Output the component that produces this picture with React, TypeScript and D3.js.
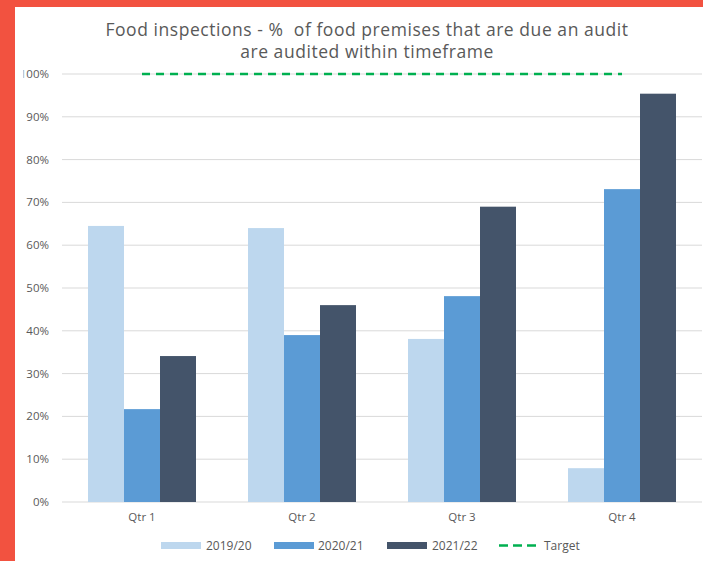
import React from "react";
import * as d3 from "d3";

const categories = ["Qtr 1", "Qtr 2", "Qtr 3", "Qtr 4"];
const seriesNames = ["2019/20", "2020/21", "2021/22"];
const values2019 = [0.645, 0.64, 0.381, 0.079];
const values2020 = [0.217, 0.39, 0.481, 0.731];
const values2021 = [0.341, 0.46, 0.69, 0.954];
const targetValues = [1, 1, 1, 1];
const yTicks = [0, 0.1, 0.2, 0.3, 0.4, 0.5, 0.6, 0.7, 0.8, 0.9, 1];
const titleLines = [
  "Food inspections - %  of food premises that are due an audit",
  "are audited within timeframe",
];

const colors = ["#BDD7EE", "#5B9BD5", "#44546A"];
const targetColor = "#00B050";
const textColor = "#595959";
const gridColor = "#D9D9D9";
const font = "'Open Sans', sans-serif";

export default function App() {
  const W = 703;
  const H = 561;
  const left = 62;
  const right = 702;
  const top = 74;
  const bottom = 502;

  const x = d3.scaleBand<string>().domain(categories).range([left, right]).paddingInner(0).paddingOuter(0);
  const inner = d3.scaleBand<string>().domain(seriesNames).range([26, 134]).padding(0);
  const y = d3.scaleLinear().domain([0, 1]).range([bottom, top]);
  const series = [values2019, values2020, values2021];
  const fmt = d3.format(".0%");

  const targetLine = d3
    .line<number>()
    .x((_, i) => (x(categories[i]) as number) + x.bandwidth() / 2)
    .y((d) => y(d));

  const legendItems = [
    { label: seriesNames[0], kind: "rect", color: colors[0], sx: 161, tx: 206 },
    { label: seriesNames[1], kind: "rect", color: colors[1], sx: 274, tx: 318 },
    { label: seriesNames[2], kind: "rect", color: colors[2], sx: 387, tx: 432 },
    { label: "Target", kind: "line", color: targetColor, sx: 499, tx: 544 },
  ];

  return (
    <svg
      width={W}
      height={H}
      style={{ position: "absolute", left: 0, top: 0, background: "#fff" }}
      fontFamily={font}
    >
      <defs>
        <clipPath id="labelClip">
          <rect x={23.5} y={0} width={W} height={H} />
        </clipPath>
      </defs>
      <rect x={0} y={0} width={W} height={H} fill="#fff" />

      {titleLines.map((t, i) => (
        <text
          key={i}
          x={367}
          y={36 + i * 22}
          textAnchor="middle"
          fontSize={17.5}
          letterSpacing={0.55}
          fill={textColor}
          style={{ whiteSpace: "pre" }}
        >
          {t}
        </text>
      ))}

      {yTicks.map((t) => (
        <g key={t}>
          <line x1={left} x2={right} y1={y(t)} y2={y(t)} stroke={gridColor} strokeWidth={1} />
          <text
            x={49}
            y={y(t) + 4}
            textAnchor="end"
            fontSize={11.5}
            fill={textColor}
            clipPath="url(#labelClip)"
          >
            {fmt(t)}
          </text>
        </g>
      ))}

      {categories.map((c, ci) => (
        <g key={c}>
          {series.map((vals, si) => (
            <rect
              key={si}
              x={(x(c) as number) + (inner(seriesNames[si]) as number)}
              y={y(vals[ci])}
              width={inner.bandwidth()}
              height={bottom - y(vals[ci])}
              fill={colors[si]}
            />
          ))}
          <text
            x={(x(c) as number) + x.bandwidth() / 2}
            y={521}
            textAnchor="middle"
            fontSize={11.5}
            fill={textColor}
          >
            {c}
          </text>
        </g>
      ))}

      <path
        d={targetLine(targetValues) || ""}
        fill="none"
        stroke={targetColor}
        strokeWidth={2.5}
        strokeDasharray="8,6"
      />

      {legendItems.map((it) => (
        <g key={it.label}>
          {it.kind === "rect" ? (
            <rect x={it.sx} y={542} width={40} height={7} fill={it.color} />
          ) : (
            <line
              x1={it.sx}
              x2={it.sx + 38}
              y1={545.5}
              y2={545.5}
              stroke={it.color}
              strokeWidth={2.5}
              strokeDasharray="9,5"
            />
          )}
          <text x={it.tx} y={550} fontSize={12} fill={textColor}>
            {it.label}
          </text>
        </g>
      ))}

      <rect x={0} y={0} width={W} height={7} fill="#F25240" />
      <rect x={0} y={0} width={15} height={H} fill="#F25240" />
    </svg>
  );
}
